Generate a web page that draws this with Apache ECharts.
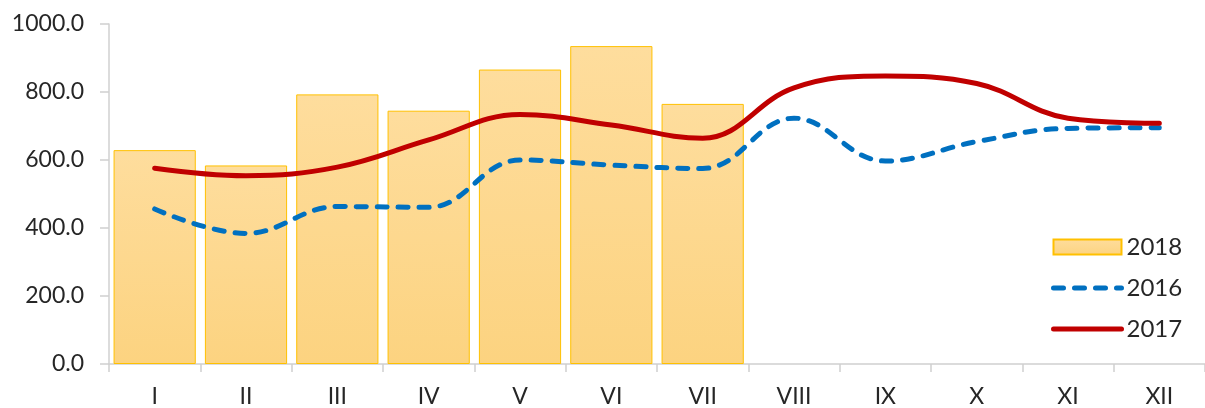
<!DOCTYPE html>
<html>
<head>
<meta charset="utf-8">
<script src="https://cdn.jsdelivr.net/npm/echarts@6/dist/echarts.min.js"></script>
<style>
html,body{margin:0;padding:0;background:#fff;}
#chart{width:1205px;height:408px;}
</style>
</head>
<body>
<div id="chart"></div>
<script>
const categories = ['I','II','III','IV','V','VI','VII','VIII','IX','X','XI','XII'];
const values2018 = [629, 584, 793, 745, 866, 935, 765];
const values2016 = [456, 384, 463, 461, 600, 585, 575, 723, 597, 654, 693, 695];
const values2017 = [576, 554, 579, 659, 734, 703, 664, 812, 847, 825, 723, 708];
const yTicks = [0, 200, 400, 600, 800, 1000];

const FONT = 'Lato, "Open Sans", sans-serif';
const DASH = [10, 11];
const chart = echarts.init(document.getElementById('chart'));
chart.setOption({
  animation: false,
  backgroundColor: '#fff',
  textStyle: { fontFamily: FONT },
  grid: { left: 109, top: 24, width: 1105, height: 340, containLabel: false },
  legend: {
    orient: 'vertical',
    left: 1046,
    top: 230,
    itemWidth: 68,
    itemHeight: 15,
    itemGap: 17,
    itemTextGap: 7,
    itemStyle: { opacity: 0 },
    textStyle: { fontSize: 24, color: '#262626', fontFamily: FONT },
    data: [
      { name: '2018', icon: 'rect', itemStyle: { opacity: 1 } },
      { name: '2016', lineStyle: { width: 5, type: DASH, cap: 'round', color: '#0070C0' } },
      { name: '2017', lineStyle: { width: 5, cap: 'round', color: '#C00000' } }
    ]
  },
  xAxis: {
    type: 'category',
    data: categories,
    boundaryGap: true,
    axisLine: { lineStyle: { color: '#D0D0D0', width: 1.5 } },
    axisTick: { show: true, length: 8, lineStyle: { color: '#D0D0D0', width: 1.5 } },
    axisLabel: { color: '#262626', fontSize: 23, margin: 21, fontFamily: FONT },
    splitLine: { show: false }
  },
  yAxis: {
    type: 'value',
    min: yTicks[0],
    max: yTicks[yTicks.length - 1],
    interval: 200,
    axisLine: { show: true, lineStyle: { color: '#D0D0D0', width: 1.5 } },
    axisTick: { show: true, length: 9, inside: false, lineStyle: { color: '#D0D0D0', width: 1.5 } },
    axisLabel: { color: '#262626', fontSize: 23, margin: 25, fontFamily: FONT,
      formatter: v => v.toFixed(1) },
    splitLine: { show: false }
  },
  series: [
    {
      name: '2018',
      type: 'bar',
      data: values2018,
      barCategoryGap: '10%',
      z: 1,
      itemStyle: {
        color: new echarts.graphic.LinearGradient(0, 0, 0, 1, [
          { offset: 0, color: '#FEDD9D' },
          { offset: 1, color: '#FCD380' }
        ]),
        borderColor: '#FFC000',
        borderWidth: 1
      }
    },
    {
      name: '2016',
      type: 'line',
      data: values2016,
      smooth: 0.4,
      symbol: 'none',
      z: 3,
      itemStyle: { color: '#0070C0' },
      lineStyle: { color: '#0070C0', width: 5, type: DASH, cap: 'round' }
    },
    {
      name: '2017',
      type: 'line',
      data: values2017,
      smooth: 0.4,
      symbol: 'none',
      z: 4,
      itemStyle: { color: '#C00000' },
      lineStyle: { color: '#C00000', width: 5, cap: 'round' }
    }
  ]
});
</script>
</body>
</html>
